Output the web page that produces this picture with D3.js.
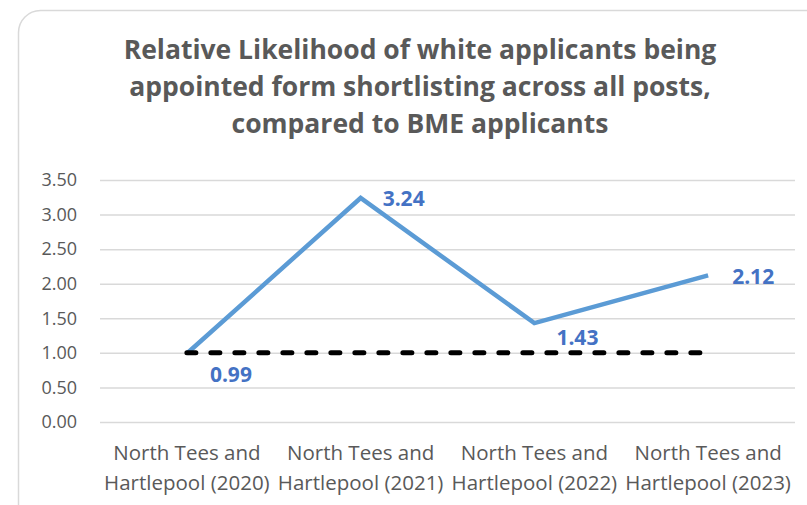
<!DOCTYPE html>
<html>
<head>
<meta charset="utf-8">
<script src="https://cdn.jsdelivr.net/npm/d3@7"></script>
<style>
  body { margin: 0; background: #fff; }
  svg { display: block; font-family: "Open Sans", "Noto Sans", sans-serif; }
</style>
</head>
<body>
<div id="chart"></div>
<script>
const width = 807;
const height = 505;

const categories = [
    ['North Tees and', 'Hartlepool (2020)'],
    ['North Tees and', 'Hartlepool (2021)'],
    ['North Tees and', 'Hartlepool (2022)'],
    ['North Tees and', 'Hartlepool (2023)']
];
const likelihood = [0.99, 3.24, 1.43, 2.12];
const parity = [1, 1, 1, 1];
const yTicks = [0, 0.5, 1, 1.5, 2, 2.5, 3, 3.5];
const titleLines = [
    'Relative Likelihood of white applicants being',
    'appointed form shortlisting across all posts,',
    'compared to BME applicants'
];

// label offsets relative to the point, tuned by eye
const labelOffsets = [[23, 28], [22, 8], [22, 22], [24, 9]];

const plotLeft = 100;
const plotRight = 795;
const plotTop = 180;
const plotBottom = 422;

const svg = d3.select('#chart').append('svg')
    .attr('width', width)
    .attr('height', height);

// chart frame, cropped on the right and bottom
svg.append('rect')
    .attr('x', 18.5)
    .attr('y', 10.5)
    .attr('width', 820)
    .attr('height', 520)
    .attr('rx', 22)
    .attr('fill', '#fff')
    .attr('stroke', '#d9d9d9')
    .attr('stroke-width', 1.5);

const x = d3.scaleBand()
    .domain(d3.range(categories.length))
    .range([plotLeft, plotRight]);

const y = d3.scaleLinear()
    .domain([0, 3.5])
    .range([plotBottom, plotTop]);

// title
svg.append('g')
    .selectAll('text')
    .data(titleLines)
    .enter()
    .append('text')
    .attr('x', 420)
    .attr('y', (d, i) => 58.5 + i * 37.3)
    .attr('text-anchor', 'middle')
    .attr('font-size', 26.5)
    .attr('font-weight', 'bold')
    .attr('fill', '#595959')
    .text(d => d);

// gridlines + y labels
const yAxis = d3.axisLeft(y)
    .tickValues(yTicks)
    .tickSize(-(plotRight - plotLeft))
    .tickPadding(23)
    .tickFormat(d3.format('.2f'));

const yAxisGroup = svg.append('g')
    .attr('transform', `translate(${plotLeft},0)`)
    .call(yAxis);
yAxisGroup.select('.domain').remove();
yAxisGroup.selectAll('line')
    .attr('stroke', '#d9d9d9')
    .attr('stroke-width', 1.5);
yAxisGroup.selectAll('text')
    .attr('font-size', 18)
    .attr('font-family', '"Open Sans", sans-serif')
    .attr('fill', '#595959');

// category labels
const xLabels = svg.append('g')
    .selectAll('text')
    .data(categories)
    .enter()
    .append('text')
    .attr('text-anchor', 'middle')
    .attr('font-size', 20.5)
    .attr('fill', '#595959');
xLabels.each(function (lines, i) {
    d3.select(this).selectAll('tspan')
        .data(lines)
        .enter()
        .append('tspan')
        .attr('x', x(i) + x.bandwidth() / 2)
        .attr('y', (d, j) => 460 + j * 30)
        .text(d => d);
});

const line = d3.line()
    .x((d, i) => x(i) + x.bandwidth() / 2)
    .y(d => y(d));

svg.append('path')
    .datum(likelihood)
    .attr('d', line)
    .attr('fill', 'none')
    .attr('stroke', '#5b9bd5')
    .attr('stroke-width', 4.5)
    .attr('stroke-linejoin', 'miter');

svg.append('path')
    .datum(parity)
    .attr('d', line)
    .attr('fill', 'none')
    .attr('stroke', '#000')
    .attr('stroke-width', 5)
    .attr('stroke-linecap', 'round')
    .attr('stroke-dasharray', '9,15');

// data labels
svg.append('g')
    .selectAll('text')
    .data(likelihood)
    .enter()
    .append('text')
    .attr('x', (d, i) => x(i) + x.bandwidth() / 2 + labelOffsets[i][0])
    .attr('y', (d, i) => y(d) + labelOffsets[i][1])
    .attr('font-size', 21)
    .attr('font-weight', 'bold')
    .attr('fill', '#4472c4')
    .text(d => d3.format('.2f')(d));
</script>
</body>
</html>
